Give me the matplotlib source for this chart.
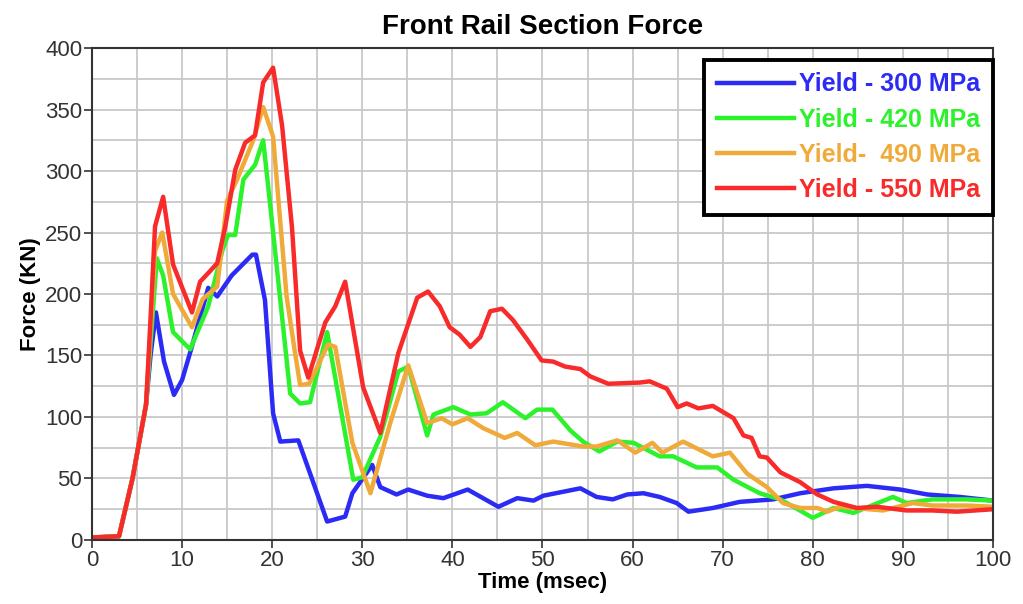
import numpy as np
import matplotlib
matplotlib.use('Agg')
import matplotlib.pyplot as plt
from matplotlib.ticker import MultipleLocator

plt.rcParams['font.family'] = ['Liberation Sans', 'DejaVu Sans']

# data (time in msec, force in KN)
t_300 = [0, 3, 4.5, 5.5, 6, 6.5, 7.1, 8, 9.1, 10, 11, 12.9, 13.9, 15.5, 17.8, 18.2, 19.2, 20.1, 20.9, 22.9,
         26.1, 28.1, 28.9, 31.1, 32, 33.8, 35.1, 37.2, 39, 41.7, 43.4, 45.1, 47.2, 49, 50.1, 54.2, 56, 57.8,
         59.4, 61.2, 63, 64.9, 66.2, 68.9, 71.9, 75.6, 78.6, 82.3, 86, 89.7, 92.7, 96.3, 100]
f_300 = [2, 3, 50, 90, 110, 150, 185, 145, 118, 130, 155, 205, 198, 215, 232, 232, 195, 103, 80, 81,
         15, 19, 38, 61, 43, 37, 41, 36, 34, 41, 34, 27, 34, 32, 36, 42, 35, 33,
         37, 38, 35, 30, 23, 26, 31, 33, 38, 42, 44, 41, 37, 35, 32]

t_420 = [0, 3, 4.5, 5.5, 6, 6.5, 7.2, 7.9, 9, 10.9, 12.9, 14.5, 15.1, 15.9, 16.8, 18.1, 19, 19.8, 20.9, 22,
         23.1, 24.2, 26.1, 29, 30, 32, 34, 35.1, 37.2, 37.9, 40.1, 42, 43.8, 45.6, 48.1, 49.4, 51.1, 53.1,
         54.5, 56.3, 58.3, 60.1, 63, 64.5, 67.1, 69.4, 71.2, 74.1, 76.4, 80, 82.3, 84.5, 88.9, 90.4, 93.3,
         97.1, 100]
f_420 = [2, 3, 50, 90, 110, 160, 229, 215, 169, 155, 190, 236, 248, 248, 293, 305, 325, 271, 195, 119,
         111, 112, 169, 49, 51, 84, 137, 141, 85, 102, 108, 102, 103, 112, 99, 106, 106, 89,
         80, 72, 80, 79, 68, 68, 59, 59, 49, 38, 33, 18, 26, 22, 35, 30, 33,
         33, 32]

t_490 = [0, 3, 4.5, 5.5, 6, 6.5, 7.0, 7.8, 9, 11.1, 12.3, 13.9, 15, 16.1, 17.9, 19, 20.1, 21.6, 22.5, 23.1,
         24.1, 26.2, 27, 28.9, 30.9, 33.1, 35.1, 37.2, 38.8, 40, 41.7, 43.4, 45.8, 47.2, 49.2, 51.2, 54.5,
         56, 58.3, 60.3, 62.2, 63.3, 65.6, 68.9, 70.8, 72.7, 74.9, 76.7, 78.6, 80.5, 81.6, 83, 87.8, 91.1,
         93.3, 97.1, 100]
f_490 = [2, 3, 50, 90, 110, 170, 235, 250, 200, 173, 196, 206, 276, 293, 325, 352, 328, 198, 154, 126,
         127, 159, 157, 79, 38, 95, 142, 95, 99, 94, 99, 91, 83, 87, 77, 80, 76,
         76, 81, 71, 79, 71, 80, 68, 71, 54, 43, 30, 26, 26, 23, 27, 24, 30,
         28, 28, 27]

t_550 = [0, 3, 4.5, 5.5, 6, 6.5, 7.0, 7.9, 9, 11.1, 12, 12.9, 13.9, 14.8, 15.9, 17, 18.1, 19, 20.1, 21.1,
         22.2, 23.1, 24, 25.9, 27, 28.1, 30.1, 32, 34, 36.1, 37.3, 38.6, 39.7, 40.8, 42, 43.1, 44.2, 45.5,
         46.7, 48.3, 49.9, 51.2, 52.5, 54.2, 55.3, 57.3, 60.8, 61.9, 63.8, 65, 66, 67.3, 68.9, 71.2, 72.3,
         73.2, 74.1, 74.9, 76.4, 78.6, 80.5, 82.3, 84.9, 87.1, 90.4, 93.3, 96, 100]
f_550 = [2, 3, 50, 90, 110, 180, 255, 279, 224, 185, 210, 217, 225, 255, 301, 323, 329, 372, 384, 337,
         254, 154, 132, 177, 190, 210, 124, 87, 152, 197, 202, 190, 173, 167, 157, 165, 186, 188,
         179, 163, 146, 145, 141, 139, 133, 127, 128, 129, 123, 108, 111, 107, 109, 99, 85,
         83, 68, 67, 55, 47, 37, 31, 26, 27, 24, 24, 23, 25]

labels = ['Yield - 300 MPa', 'Yield - 420 MPa', 'Yield-  490 MPa', 'Yield - 550 MPa']
colors = ['#2b2bf5', '#2cf22c', '#f0aa3a', '#f82a2a']

fig = plt.figure(figsize=(10.23, 6.04), dpi=100)
ax = fig.add_axes([0.0899, 0.106, 0.8808, 0.8145])

series = [(t_300, f_300), (t_420, f_420), (t_490, f_490), (t_550, f_550)]
for (t, f), lab, c in zip(series, labels, colors):
    ax.plot(t, f, color=c, lw=3.2, label=lab, solid_joinstyle='round')

ax.set_xlim(0, 100)
ax.set_ylim(0, 400)
ax.xaxis.set_major_locator(MultipleLocator(10))
ax.yaxis.set_major_locator(MultipleLocator(50))
ax.xaxis.set_minor_locator(MultipleLocator(5))
ax.yaxis.set_minor_locator(MultipleLocator(25))
ax.grid(True, which='both', color='#c8c8c8', lw=1.3)
ax.set_axisbelow(True)
ax.tick_params(which='minor', length=0)
ax.tick_params(which='major', direction='out', length=6, width=1.2, labelsize=16,
               colors='#333333', pad=1)
for s in ax.spines.values():
    s.set_color('#333333')
    s.set_linewidth(1.5)

ax.set_title('Front Rail Section Force', fontsize=20, fontweight='bold', pad=10)
ax.set_xlabel('Time (msec)', fontsize=16, fontweight='bold', labelpad=1)
ax.set_ylabel('Force (KN)', fontsize=16, fontweight='bold', labelpad=3)

leg = ax.legend(loc='upper right', bbox_to_anchor=(1.0, 0.976), borderaxespad=0,
                fancybox=False, framealpha=1, edgecolor='black', handlelength=3.1,
                handletextpad=0.2, labelspacing=0.45, borderpad=0.5, labelcolor='linecolor',
                prop={'weight': 'bold', 'size': 18})
leg.get_frame().set_linewidth(2.8)

fig.savefig('out.png', dpi=100)
